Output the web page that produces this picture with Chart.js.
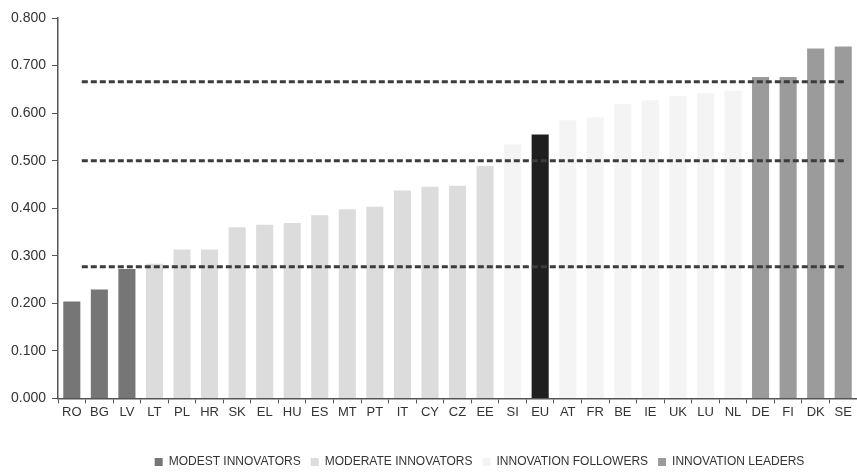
<!DOCTYPE html>
<html>
<head>
<meta charset="utf-8">
<script src="https://cdn.jsdelivr.net/npm/chart.js@4.4.1/dist/chart.umd.min.js"></script>
<style>
  body { margin: 0; background: #fff; }
  #wrap { width: 857px; height: 473px; }
</style>
</head>
<body>
<div id="wrap"><canvas id="chartIus" width="857" height="473"></canvas></div>
<script>
const countries = ['RO', 'BG', 'LV', 'LT', 'PL', 'HR', 'SK', 'EL', 'HU', 'ES', 'MT', 'PT', 'IT', 'CY', 'CZ', 'EE',
    'SI', 'EU', 'AT', 'FR', 'BE', 'IE', 'UK', 'LU', 'NL', 'DE', 'FI', 'DK', 'SE']
const scores = [0.204, 0.229, 0.272, 0.283, 0.313, 0.313, 0.360, 0.365, 0.369, 0.385, 0.398, 0.403, 0.437, 0.445,
    0.447, 0.489, 0.534, 0.555, 0.585, 0.591, 0.619, 0.627, 0.636, 0.642, 0.647, 0.676, 0.676, 0.736, 0.740]
// 0 modest, 1 moderate, 2 followers, 3 leaders, 4 EU average
const groupOf = [0, 0, 0, 1, 1, 1, 1, 1, 1, 1, 1, 1, 1, 1, 1, 1,
    2, 4, 2, 2, 2, 2, 2, 2, 2, 3, 3, 3, 3]
const groupNames = ['MODEST INNOVATORS', 'MODERATE INNOVATORS', 'INNOVATION FOLLOWERS', 'INNOVATION LEADERS', 'EU']
const groupColors = ['#767676', '#dcdcdc', '#f4f4f4', '#9b9b9b', '#1f1f1f']
const thresholds = [0.666, 0.500, 0.277]
const yTicks = [0, 0.1, 0.2, 0.3, 0.4, 0.5, 0.6, 0.7, 0.8]

const font = "'Liberation Sans', Arial, sans-serif"

const datasets = groupNames.map(function(name, g) {
    return {
        label: name,
        data: scores.map(function(v, i) { return groupOf[i] === g ? v : null }),
        backgroundColor: groupColors[g],
        borderWidth: 0,
        grouped: false,
        categoryPercentage: 1,
        barPercentage: 0.62
    }
})

const dashedLines = {
    id: 'dashedLines',
    afterDatasetsDraw(chart) {
        const ctx = chart.ctx
        const x = chart.scales.x
        const y = chart.scales.y
        ctx.save()
        ctx.strokeStyle = '#3c3c3c'
        ctx.lineWidth = 3
        ctx.setLineDash([6, 3])
        thresholds.forEach(function(t) {
            const py = y.getPixelForValue(t)
            ctx.beginPath()
            ctx.moveTo(x.getPixelForValue(0) + 10, py)
            ctx.lineTo(x.getPixelForValue(countries.length - 1) + 3, py)
            ctx.stroke()
        })
        ctx.restore()
    }
}

// legend sits lower and a bit right of centre in the original
const moveLegend = {
    id: 'moveLegend',
    afterLayout(chart) {
        const lg = chart.legend
        const h = lg.bottom - lg.top
        lg.left += 46
        lg.right += 46
        lg.top = 446
        lg.bottom = 446 + h
    }
}

new Chart(document.getElementById('chartIus'), {
    type: 'bar',
    data: {
        labels: countries,
        datasets: datasets
    },
    options: {
        responsive: false,
        animation: false,
        layout: { padding: { top: 18, right: -5, left: 5, bottom: 20 } },
        plugins: {
            tooltip: { enabled: false },
            legend: {
                position: 'bottom',
                labels: {
                    filter: function(item) { return item.datasetIndex < 4 },
                    boxWidth: 8,
                    boxHeight: 8,
                    padding: 10,
                    color: '#333',
                    font: { family: font, size: 12 }
                }
            }
        },
        scales: {
            x: {
                grid: {
                    offset: true,
                    drawOnChartArea: false,
                    tickLength: 5,
                    color: '#555'
                },
                border: { color: '#555', width: 1.5 },
                ticks: {
                    color: '#333',
                    padding: 1,
                    maxRotation: 0,
                    autoSkip: false,
                    font: { family: font, size: 13 }
                }
            },
            y: {
                min: 0,
                max: 0.8,
                afterBuildTicks: function(axis) {
                    axis.ticks = yTicks.map(function(v) { return { value: v } })
                },
                grid: {
                    drawOnChartArea: false,
                    tickLength: 6,
                    color: '#555'
                },
                border: { color: '#555', width: 1.5 },
                ticks: {
                    color: '#333',
                    padding: 6,
                    font: { family: font, size: 14 },
                    callback: function(v) { return Number(v).toFixed(3) }
                }
            }
        }
    },
    plugins: [dashedLines, moveLegend]
})
</script>
</body>
</html>
